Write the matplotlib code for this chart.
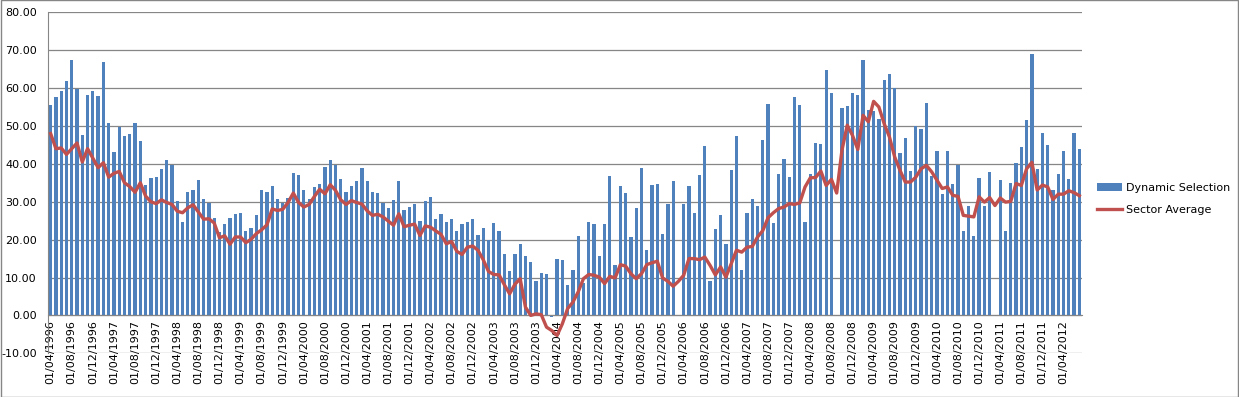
import numpy as np
import matplotlib
matplotlib.use("Agg")
import matplotlib.pyplot as plt
from matplotlib.patches import Rectangle

# monthly data, 01/04/1996 .. 01/07/2012
START_YEAR = 1996
START_MONTH = 4

dynamic_selection = [
    55.5, 57.6, 59.2, 61.8, 67.3, 59.8, 47.5, 58.1, 59.2, 57.8, 66.8, 50.7,
    43.0, 49.7, 47.3, 47.8, 50.7, 46.0, 34.3, 36.2, 36.4, 38.6, 40.9, 39.7,
    30.1, 24.6, 32.5, 33.0, 35.7, 30.6, 29.8, 25.6, 21.9, 24.0, 25.6, 26.7,
    27.0, 22.3, 23.0, 26.4, 33.0, 32.7, 34.1, 30.6, 29.8, 30.9, 37.5, 37.0,
    33.0, 30.6, 33.8, 34.6, 39.1, 40.9, 39.7, 35.9, 32.5, 34.1, 35.4, 38.8,
    35.4, 32.5, 32.2, 29.8, 28.3, 30.4, 35.4, 27.7, 28.5, 29.3, 24.8, 30.1,
    31.2, 25.4, 26.7, 24.6, 25.4, 22.2, 24.0, 24.6, 25.4, 21.1, 23.0, 20.0,
    24.3, 22.4, 16.1, 11.6, 16.1, 18.8, 15.8, 14.0, 9.0, 11.1, 10.8, -0.3,
    14.8, 14.5, 7.9, 12.1, 20.9, 8.5, 24.6, 24.0, 15.6, 24.0, 36.7, 13.2,
    34.1, 32.2, 20.6, 28.3, 38.8, 17.2, 34.3, 34.6, 21.4, 29.5, 35.4, 0.0,
    29.3, 34.1, 26.9, 37.0, 44.6, 9.0, 22.7, 26.4, 18.8, 38.3, 47.3, 12.1,
    26.9, 30.6, 29.0, 46.2, 55.7, 24.3, 37.2, 41.2, 36.4, 57.6, 55.5, 24.6,
    37.2, 45.4, 45.2, 64.7, 58.6, 0.0, 54.7, 55.2, 58.6, 58.1, 67.3, 54.1,
    54.0, 51.8, 62.1, 63.6, 59.9, 42.8, 46.7, 38.0, 49.9, 49.1, 56.0, 36.7,
    43.3, 32.0, 43.3, 34.6, 39.7, 22.2, 28.8, 20.9, 36.2, 29.0, 37.8, 0.0,
    35.7, 22.4, 34.9, 40.1, 44.4, 51.5, 68.9, 38.6, 48.1, 45.0, 33.1, 37.3,
    43.4, 36.0, 48.1, 43.9,
]

sector_average = [
    48.0, 44.0, 44.2, 42.5, 44.0, 45.5, 40.5, 44.0, 41.5, 39.0, 40.3, 36.5,
    37.5, 38.0, 35.0, 34.0, 32.5, 35.0, 31.5, 30.0, 29.5, 30.5, 29.8, 29.3,
    27.5, 27.1, 28.4, 29.2, 27.3, 25.4, 25.5, 24.4, 20.5, 21.0, 18.8, 20.7,
    20.7, 19.2, 20.1, 21.6, 22.6, 23.9, 28.1, 27.7, 28.0, 29.8, 32.3, 29.8,
    28.6, 29.3, 31.4, 33.3, 32.1, 34.5, 33.0, 30.5, 29.3, 30.3, 29.8, 29.4,
    27.6, 26.4, 26.7, 26.0, 24.9, 23.8, 26.8, 23.4, 23.8, 24.1, 21.1, 23.6,
    23.3, 22.3, 21.4, 18.9, 19.5, 16.9, 16.1, 18.0, 18.3, 17.2, 14.7, 11.6,
    10.8, 10.7, 8.1, 5.7, 8.2, 9.7, 2.2, 0.0, 0.4, 0.2, -3.1, -4.0,
    -5.3, -2.2, 1.8, 3.5, 6.2, 9.7, 10.8, 10.6, 10.1, 8.4, 10.3, 9.9,
    13.4, 13.0, 11.0, 9.7, 11.0, 13.4, 13.9, 14.3, 9.9, 9.0, 7.7, 9.0,
    10.6, 15.0, 15.0, 14.7, 15.4, 13.2, 10.7, 12.8, 10.1, 13.6, 17.2, 16.7,
    18.0, 18.2, 20.7, 22.4, 25.8, 27.1, 28.2, 28.6, 29.5, 29.3, 29.7, 33.9,
    36.3, 36.4, 38.1, 34.3, 35.9, 32.3, 43.6, 50.2, 47.5, 43.8, 52.8, 51.1,
    56.5, 55.0, 50.6, 47.1, 41.8, 38.3, 35.2, 35.2, 36.5, 38.7, 39.6, 37.9,
    35.7, 33.5, 33.9, 31.7, 31.4, 26.4, 26.2, 26.0, 31.3, 29.9, 31.1, 29.0,
    31.0, 29.9, 30.1, 34.8, 34.3, 38.7, 40.4, 33.1, 34.4, 33.9, 30.6, 32.0,
    32.0, 32.9, 32.4, 31.6,
]

n = len(dynamic_selection)
dates = []
for k in range(n):
    m = START_MONTH - 1 + k
    dates.append("01/%02d/%d" % (m % 12 + 1, START_YEAR + m // 12))

BLUE = "#4F81BD"
RED = "#C0504D"
GRID = "#868686"

fig = plt.figure(figsize=(12.39, 3.97), dpi=100)
ax = fig.add_axes([48 / 1239, (397 - 353.3) / 397, (1082 - 48) / 1239, (353.3 - 12.3) / 397])

# axis line at zero (do this first, it resets the ticks)
for s in ["top", "right"]:
    ax.spines[s].set_visible(False)
ax.spines["left"].set_color(GRID)
ax.spines["bottom"].set_position(("data", 0))
ax.spines["bottom"].set_color(GRID)

x = np.arange(n)
bars = ax.bar(x, dynamic_selection, width=0.62, color=BLUE, zorder=2)
line, = ax.plot(x, sector_average, color=RED, lw=2.4, zorder=3)

ax.set_xlim(-0.5, n - 0.5)
ax.set_ylim(-10, 80)
ax.set_yticks(np.arange(-10, 81, 10))
ax.yaxis.set_major_formatter(matplotlib.ticker.FormatStrFormatter("%.2f"))
ax.grid(axis="y", color=GRID, lw=0.9, zorder=0)
ax.set_axisbelow(True)

ax.set_xticks(x[::4])
ax.set_xticklabels(dates[::4])
ax.tick_params(axis="x", length=0, pad=3.5, labelrotation=90, labelsize=8)
ax.tick_params(axis="y", length=0, pad=8, labelsize=8)

fig.legend([bars, line], ["Dynamic Selection", "Sector Average"],
           loc="center left", bbox_to_anchor=(1097 / 1239, (397 - 199) / 397),
           frameon=False, fontsize=8, handlelength=2.25, handletextpad=0.35,
           labelspacing=1.1, borderpad=0, borderaxespad=0)

fig.add_artist(Rectangle((0.0005, 0.001), 0.999, 0.998, transform=fig.transFigure,
                         fill=False, edgecolor=GRID, lw=1))

fig.savefig("out.png", dpi=100)
